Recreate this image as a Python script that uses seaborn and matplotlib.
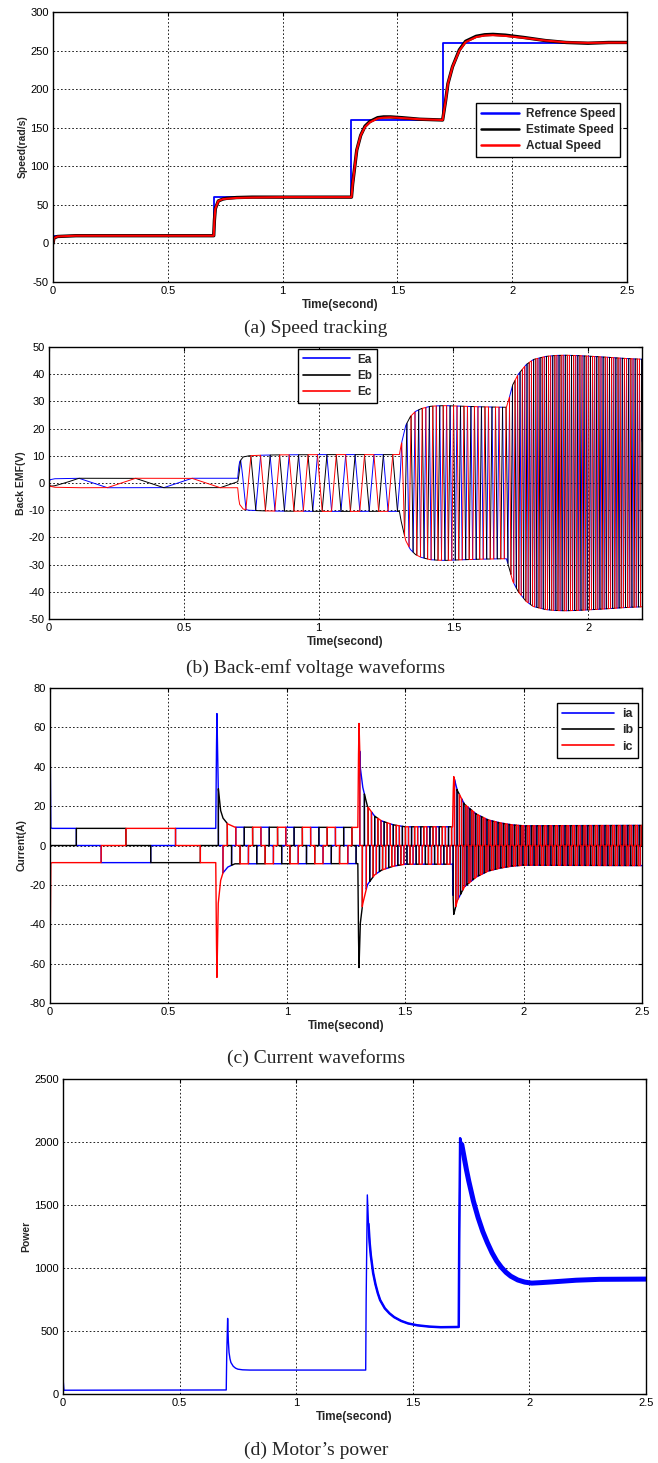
import numpy as np
import pandas as pd
import matplotlib
matplotlib.use('Agg')
import matplotlib.pyplot as plt
import seaborn as sns

# ---- data ----
# (a) speed
ref_t = [0, 0.7, 1.3, 1.7, 2.5]
ref_speed = [10, 60, 160, 260, 260]

act_t = [0, 0.004, 0.02, 0.1, 0.7, 0.703, 0.707, 0.72, 0.74, 0.757, 0.8, 0.867, 1.0, 1.3,
         1.305, 1.314, 1.323, 1.34, 1.359, 1.38, 1.414, 1.44, 1.47, 1.52, 1.597, 1.697,
         1.71, 1.72, 1.74, 1.77, 1.797, 1.843, 1.88, 1.916, 1.97, 2.05, 2.144, 2.235,
         2.33, 2.42, 2.5]
act_speed = [0, 7, 9, 10, 10, 30, 45, 55, 57.5, 58, 59, 59.5, 60, 60,
             77, 99, 121, 140, 151, 157, 162, 163, 163.5, 162.5, 161, 160,
             185, 207, 229, 250, 261, 267.5, 269.5, 270, 269, 266.5, 263, 260.7,
             260, 260.3, 260.3]
est_speed = [0, 7, 9, 10, 10, 30, 45, 55, 57.5, 58.5, 59.5, 60, 60, 60,
             77, 99, 121, 140, 152, 158, 163, 164, 164, 163, 161, 160,
             185, 207, 229, 251, 262, 268.5, 270.5, 271, 270, 267, 263, 260.5,
             259.5, 260.5, 260.5]

# (b) back-emf constant, pole pairs, initial rotor angle (deg)
ke = 0.174
pole_pairs = 1
theta0_deg = 92

# (c) current magnitude envelope
cur_t = [0, 0.0012, 0.003, 0.008, 0.7, 0.702, 0.705, 0.71, 0.72, 0.73, 0.75, 0.78, 1.3, 1.302,
         1.305, 1.31, 1.32, 1.34, 1.37, 1.4, 1.45, 1.5, 1.7, 1.702, 1.705, 1.72, 1.75, 1.8,
         1.85, 1.9, 1.95, 2.0, 2.5]
cur_mag = [9, 45, 9, 8.7, 8.7, 40, 67, 30, 18, 14, 11, 9.3, 9.2, 40,
           62, 40, 30, 20, 15, 12.5, 10.5, 9.5, 9.5, 25, 35, 28, 21, 16,
           13, 11.5, 10.5, 10, 10.2]

# (d) power
pow_t = [0, 0.0015, 0.004, 0.7, 0.702, 0.706, 0.709, 0.712, 0.716, 0.72, 0.73, 0.74, 0.75,
         0.77, 0.8, 1.298, 1.3, 1.305, 1.31, 1.315, 1.32, 1.33, 1.34, 1.35, 1.36, 1.38, 1.4,
         1.42, 1.45, 1.48, 1.52, 1.57, 1.62, 1.697, 1.699, 1.703, 1.71, 1.72, 1.73, 1.74,
         1.75, 1.76, 1.78, 1.8, 1.82, 1.84, 1.86, 1.88, 1.9, 1.92, 1.95, 1.98, 2.01, 2.05,
         2.1, 2.2, 2.3, 2.5]
pow_val = [30, 90, 30, 32, 300, 600, 420, 330, 280, 250, 220, 205, 197,
           192, 190, 190, 750, 1580, 1350, 1200, 1100, 960, 870, 800, 745, 680, 640,
           610, 580, 560, 545, 535, 530, 532, 1200, 2030, 1980, 1880, 1780, 1690,
           1610, 1530, 1400, 1290, 1200, 1120, 1055, 1005, 965, 935, 905, 888, 880, 884,
           890, 903, 910, 912]

# ---- waveforms built from the readings ----
dt = 5e-5
t = np.arange(0, 2.5 + dt, dt)
w = np.interp(t, act_t, act_speed)
theta = np.deg2rad(theta0_deg) + pole_pairs * np.concatenate([[0], np.cumsum(0.5 * (w[1:] + w[:-1]) * dt)])
th_deg = np.rad2deg(theta)


def trap(deg):
    return np.interp(np.mod(deg, 360), [0, 30, 150, 210, 330, 360], [0, 1, 1, -1, -1, 0])


def sector(deg):
    d = np.mod(deg, 360)
    return np.where((d >= 30) & (d < 150), 1.0, np.where((d >= 210) & (d < 330), -1.0, 0.0))


ea = ke * w * trap(th_deg)
eb = ke * w * trap(th_deg - 120)
ec = ke * w * trap(th_deg + 120)
imag = np.interp(t, cur_t, cur_mag)
ia = imag * sector(th_deg)
ib = imag * sector(th_deg - 120)
ic = imag * sector(th_deg + 120)

# ---- styling ----
sns.set_style('white')
plt.rcParams['font.family'] = ['Liberation Sans', 'DejaVu Sans']
plt.rcParams['axes.linewidth'] = 1.0

fig = plt.figure(figsize=(6.58, 14.63), dpi=100)
H = 1463.0
W = 658.0


def make_ax(l, r, top, bot):
    return fig.add_axes([l / W, 1 - bot / H, (r - l) / W, (bot - top) / H])


def style(ax, xt, xl, yt, xmax, ylim, ylabel):
    ax.set_xlim(0, xmax)
    ax.set_ylim(*ylim)
    ax.set_xticks(xt)
    ax.set_xticklabels(xl)
    ax.set_yticks(yt)
    ax.set_yticklabels([str(v) for v in yt])
    ax.tick_params(direction='in', length=3, labelsize=8, top=True, right=True, pad=3, colors='black')
    ax.grid(True, color='black', linestyle=(0, (2, 2.5)), linewidth=0.6)
    for s in ax.spines.values():
        s.set_color('black')
        s.set_linewidth(1.0)
    ax.set_xlabel('Time(second)', fontsize=8.5, fontweight='bold', labelpad=2)
    ax.set_ylabel(ylabel, fontsize=7.5, fontweight='bold', labelpad=2)


def legend(ax, loc, anchor, hl, fs, lw):
    lg = ax.legend(loc=loc, bbox_to_anchor=anchor, borderaxespad=0, fancybox=False,
                   framealpha=1, edgecolor='black', handlelength=hl,
                   prop={'weight': 'bold', 'size': fs}, labelspacing=0.35,
                   borderpad=0.4, handletextpad=0.6)
    lg.get_frame().set_linewidth(1.0)
    for h in lg.get_lines():
        h.set_linewidth(lw)


xt5 = [0, 0.5, 1, 1.5, 2, 2.5]
xl5 = ['0', '0.5', '1', '1.5', '2', '2.5']

# (a) speed tracking
ax = make_ax(53, 627, 12, 282)
sns.lineplot(x=ref_t, y=ref_speed, ax=ax, color='#0000ff', lw=1.3, drawstyle='steps-post',
             label='Refrence Speed', estimator=None, sort=False)
sns.lineplot(x=act_t, y=est_speed, ax=ax, color='black', lw=2.4, label='Estimate Speed',
             estimator=None, sort=False)
sns.lineplot(x=act_t, y=act_speed, ax=ax, color='#ff0000', lw=1.5, label='Actual Speed',
             estimator=None, sort=False)
style(ax, xt5, xl5, list(range(-50, 301, 50)), 2.5, (-50, 300), 'Speed(rad/s)')
legend(ax, 'upper right', (0.988, 0.663), 3.2, 8.5, 1.8)

# (b) back-emf
mask = t <= 2.2
ax = make_ax(49, 642, 347, 619)
sns.lineplot(x=t[mask], y=ea[mask], ax=ax, color='#0000ff', lw=0.7, label='Ea', estimator=None, sort=False)
sns.lineplot(x=t[mask], y=eb[mask], ax=ax, color='black', lw=0.7, label='Eb', estimator=None, sort=False)
sns.lineplot(x=t[mask], y=ec[mask], ax=ax, color='#ff0000', lw=0.7, label='Ec', estimator=None, sort=False)
style(ax, xt5[:5], xl5[:5], list(range(-50, 51, 10)), 2.2, (-50, 50), 'Back EMF(V)')
legend(ax, 'upper center', (0.487, 0.993), 4.0, 8.5, 1.2)

# (c) currents
ax = make_ax(50, 642, 688, 1003)
sns.lineplot(x=t, y=ia, ax=ax, color='#0000ff', lw=1.0, label='ia', estimator=None, sort=False)
sns.lineplot(x=t, y=ib, ax=ax, color='black', lw=1.0, label='ib', estimator=None, sort=False)
sns.lineplot(x=t, y=ic, ax=ax, color='#ff0000', lw=1.0, label='ic', estimator=None, sort=False)
style(ax, xt5, xl5, list(range(-80, 81, 20)), 2.5, (-80, 80), 'Current(A)')
legend(ax, 'upper right', (0.993, 0.952), 4.2, 9, 1.2)

# (d) power
pdf = pd.DataFrame({'t': pow_t, 'p': pow_val})
ax = make_ax(63, 646, 1079, 1394)
sns.lineplot(data=pdf, x='t', y='p', ax=ax, color='#0000ff', lw=1.0, estimator=None, sort=False)
sns.lineplot(data=pdf[pdf.t >= 1.31], x='t', y='p', ax=ax, color='#0000ff', lw=1.8,
             estimator=None, sort=False)
sns.lineplot(data=pdf[pdf.t >= 1.71], x='t', y='p', ax=ax, color='#0000ff', lw=3.6,
             estimator=None, sort=False)
style(ax, xt5, xl5, list(range(0, 2501, 500)), 2.5, (0, 2500), 'Power')

# captions
caps = [('(a) Speed tracking', 328), ('(b) Back-emf voltage waveforms', 668),
        ('(c) Current waveforms', 1058), ('(d) Motor\u2019s power', 1450)]
for txt, y in caps:
    fig.text(316 / W, 1 - y / H, txt, ha='center', va='center', fontsize=14,
             family=['Liberation Serif', 'DejaVu Serif'])

fig.savefig('out.png', dpi=100)
